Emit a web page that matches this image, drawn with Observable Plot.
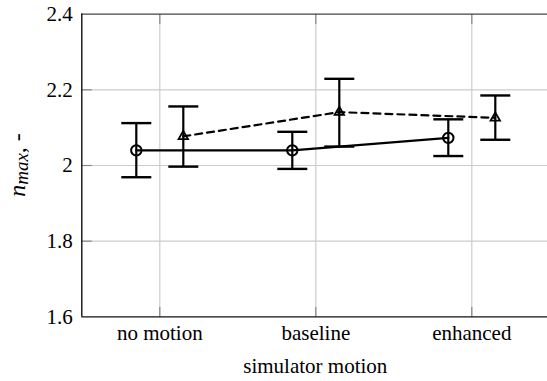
<!DOCTYPE html>
<html>
<head>
<meta charset="utf-8">
<script src="https://cdn.jsdelivr.net/npm/d3@7"></script>
<script src="https://cdn.jsdelivr.net/npm/@observablehq/plot@0.6"></script>
<style>
  html, body { margin: 0; padding: 0; background: #fff; }
  #chart svg { display: block; font-family: "Liberation Serif", "DejaVu Serif", serif !important; }
  #chart svg g[aria-label$="axis"] text,
  #chart svg g[aria-label$="tick label"] text { font-family: "Liberation Serif", serif !important; font-size: 21px !important; }
</style>
</head>
<body>
<div id="chart"></div>
<script>
const categories = ["no motion", "baseline", "enhanced"];
const yTicks = [1.6, 1.8, 2.0, 2.2, 2.4];

// series 1: circles, solid line
const s1Mean = [2.040, 2.040, 2.073];
const s1Low  = [1.969, 1.991, 2.025];
const s1High = [2.112, 2.089, 2.122];

// series 2: triangles, dashed line
const s2Mean = [2.077, 2.141, 2.126];
const s2Low  = [1.997, 2.050, 2.068];
const s2High = [2.156, 2.229, 2.185];

const s1 = categories.map((c, i) => ({cat: c, i, mean: s1Mean[i], lo: s1Low[i], hi: s1High[i]}));
const s2 = categories.map((c, i) => ({cat: c, i, mean: s2Mean[i], lo: s2Low[i], hi: s2High[i]}));

const capSymbol = {draw(ctx) { ctx.moveTo(-15, 0); ctx.lineTo(15, 0); }};
const tickRight = {draw(ctx) { ctx.moveTo(0, 0); ctx.lineTo(10, 0); }};
const tickUp = {draw(ctx) { ctx.moveTo(0, 0); ctx.lineTo(0, -10); }};
const tickDown = {draw(ctx) { ctx.moveTo(0, 0); ctx.lineTo(0, 10); }};

const off = 23.5;
const gridY = yTicks.filter(v => v > 1.6 && v < 2.4);
const catIdx = categories.map((c, i) => i);

function seriesMarks(data, dx, symbol, dash) {
  const isCircle = symbol === "circle";
  return [
    Plot.lineY(data, {x: "i", y: "mean", dx, stroke: "#000", strokeWidth: 2.2, strokeDasharray: dash}),
    Plot.ruleX(data, {x: "i", y1: "lo", y2: "hi", dx, stroke: "#000", strokeWidth: 2.2}),
    Plot.dot(data, {x: "i", y: "lo", dx, symbol: capSymbol, stroke: "#000", strokeWidth: 2.4, fill: "none"}),
    Plot.dot(data, {x: "i", y: "hi", dx, symbol: capSymbol, stroke: "#000", strokeWidth: 2.4, fill: "none"}),
    Plot.dot(data, {x: "i", y: "mean", dx, symbol, r: isCircle ? 5.2 : 3.5, stroke: "#000", strokeWidth: isCircle ? 2 : 1.8, fill: "none"})
  ];
}

const chart = Plot.plot({
  width: 547,
  height: 381,
  marginLeft: 81.3,
  marginRight: 0,
  marginTop: 13.6,
  marginBottom: 64.6,
  style: {fontFamily: "Liberation Serif, serif", fontSize: "21px", background: "#fff", color: "#000"},
  x: {type: "linear", domain: [-0.5, 2.5], range: [81.3, 549.3], ticks: catIdx, tickFormat: i => categories[i], tickSize: 0, tickPadding: 8, label: null},
  y: {domain: [1.6, 2.4], ticks: yTicks, tickFormat: d => String(d), tickSize: 0, tickPadding: 9, label: null},
  marks: [
    Plot.ruleX(catIdx, {x: d => d, stroke: "#cccccc", strokeWidth: 1.2}),
    Plot.ruleY(gridY, {y: d => d, stroke: "#cccccc", strokeWidth: 1.2}),
    Plot.dot(gridY, {x: () => -0.5, y: d => d, symbol: tickRight, stroke: "#888", strokeWidth: 1.2}),
    Plot.dot(catIdx, {x: d => d, y: () => 1.6, symbol: tickUp, stroke: "#888", strokeWidth: 1.2}),
    Plot.dot(catIdx, {x: d => d, y: () => 2.4, symbol: tickDown, stroke: "#888", strokeWidth: 1.2}),
    Plot.ruleY([2.4], {stroke: "#444", strokeWidth: 1.4}),
    Plot.ruleY([1.6], {stroke: "#111", strokeWidth: 1.4}),
    Plot.ruleX([-0.5], {stroke: "#111", strokeWidth: 1.4}),
    ...seriesMarks(s1, -off, "circle", null),
    ...seriesMarks(s2, off, "triangle", "7,5")
  ]
});

document.getElementById("chart").appendChild(chart);

const svg = d3.select(chart);
const xs = chart.scale("x");
svg.append("text")
  .attr("x", xs.apply(1))
  .attr("y", 373)
  .attr("text-anchor", "middle")
  .style("font-family", "Liberation Serif, serif")
  .style("font-size", "21px")
  .attr("fill", "#000")
  .text("simulator motion");

const yl = svg.append("text")
  .attr("transform", "translate(24.5,165) rotate(-90)")
  .attr("text-anchor", "middle")
  .style("font-family", "Liberation Serif, serif")
  .style("font-size", "24px")
  .attr("fill", "#000");
yl.append("tspan").attr("font-style", "italic").text("n");
yl.append("tspan").attr("font-style", "italic").style("font-size", "19px").attr("dy", 3.5).text("max");
yl.append("tspan").attr("dy", -3.5).text(", -");
</script>
</body>
</html>
